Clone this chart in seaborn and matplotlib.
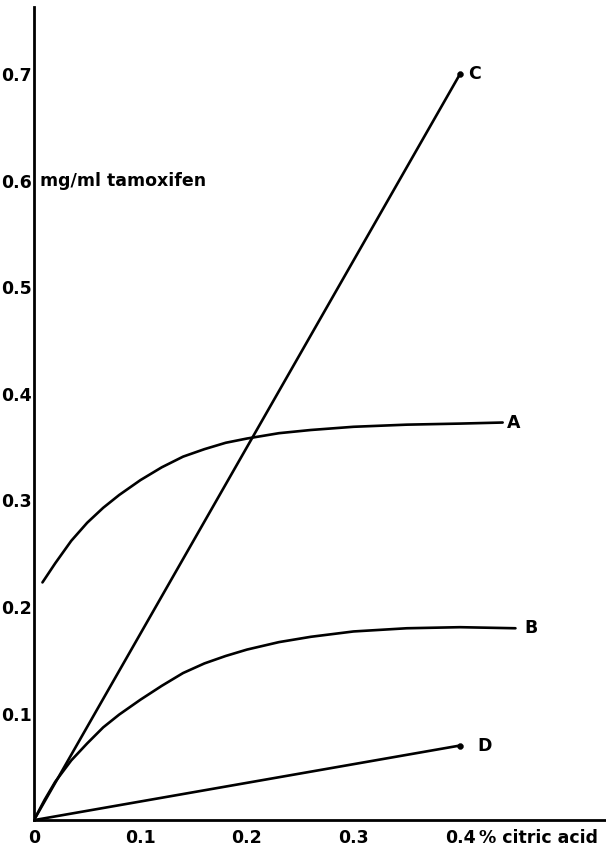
import matplotlib
matplotlib.use("Agg")
import matplotlib.pyplot as plt
import matplotlib.transforms as mtransforms
import seaborn as sns
import pandas as pd

# values (x = % citric acid, y = mg/ml tamoxifen)
a_x = [0.008, 0.02, 0.035, 0.05, 0.065, 0.08, 0.10, 0.12, 0.14, 0.16, 0.18,
       0.20, 0.23, 0.26, 0.30, 0.35, 0.40, 0.44]
a_y = [0.223, 0.241, 0.262, 0.279, 0.293, 0.305, 0.319, 0.331, 0.341, 0.348,
       0.354, 0.358, 0.363, 0.366, 0.369, 0.371, 0.372, 0.373]

b_x = [0.0, 0.01, 0.02, 0.035, 0.05, 0.065, 0.08, 0.10, 0.12, 0.14, 0.16,
       0.18, 0.20, 0.23, 0.26, 0.30, 0.35, 0.40, 0.452]
b_y = [0.0, 0.019, 0.036, 0.056, 0.072, 0.087, 0.099, 0.113, 0.126, 0.138,
       0.147, 0.154, 0.160, 0.167, 0.172, 0.177, 0.180, 0.181, 0.180]

c_x = [0.0, 0.4]
c_y = [0.0, 0.7]

d_x = [0.0, 0.4]
d_y = [0.0, 0.07]

x_ticks = [0, 0.1, 0.2, 0.3, 0.4]
x_labels = ["0", "0.1", "0.2", "0.3", "0.4"]
y_ticks = [0.1, 0.2, 0.3, 0.4, 0.5, 0.6, 0.7]
y_labels = ["0.1", "0.2", "0.3", "0.4", "0.5", "0.6", "0.7"]

curves = pd.concat([
    pd.DataFrame({"x": a_x, "y": a_y, "curve": "A"}),
    pd.DataFrame({"x": b_x, "y": b_y, "curve": "B"}),
    pd.DataFrame({"x": c_x, "y": c_y, "curve": "C"}),
    pd.DataFrame({"x": d_x, "y": d_y, "curve": "D"}),
])

sns.set_style("white")
plt.rcParams["font.family"] = ["DejaVu Sans"]
plt.rcParams["text.color"] = "black"
plt.rcParams["xtick.color"] = "black"
plt.rcParams["ytick.color"] = "black"

fig = plt.figure(figsize=(6.06, 8.49), dpi=100)
ax = fig.add_axes([0.056, 0.034, 0.944, 0.958])

for name, grp in curves.groupby("curve"):
    sns.lineplot(data=grp, x="x", y="y", ax=ax, color="black", linewidth=1.9,
                 sort=False, estimator=None, legend=False)

# end dots on the straight lines
ends = curves[curves["curve"].isin(["C", "D"])].groupby("curve").tail(1)
sns.scatterplot(data=ends, x="x", y="y", ax=ax, color="black", s=18,
                edgecolor="black", legend=False, zorder=5)

# curve labels beside the ends
fs = 12.5
label_dx = {"A": 0.004, "B": 0.008, "C": 0.008, "D": 0.016}
for name, grp in curves.groupby("curve"):
    last = grp.iloc[-1]
    ax.text(last["x"] + label_dx[name], last["y"], name, ha="left", va="center",
            fontsize=fs, fontweight="bold")

ax.set_xlim(0, 0.537)
ax.set_ylim(0, 0.763)
ax.set_xticks(x_ticks)
ax.set_xticklabels(x_labels)
ax.set_yticks(y_ticks)
ax.set_yticklabels(y_labels)
ax.tick_params(axis="both", direction="in", length=3, width=1.2, labelsize=fs)
ax.tick_params(axis="x", pad=6.5)
ax.tick_params(axis="y", pad=1.5)
for lab in ax.get_xticklabels() + ax.get_yticklabels():
    lab.set_fontweight("bold")
ax.set_xlabel("")
ax.set_ylabel("")

for side in ("top", "right"):
    ax.spines[side].set_visible(False)
for side in ("left", "bottom"):
    ax.spines[side].set_linewidth(2)
    ax.spines[side].set_color("black")

ax.text(0.006, 0.6, "mg/ml tamoxifen", ha="left", va="center",
        fontsize=fs, fontweight="bold")

# unit text continuing the 0.4 tick label
trans = mtransforms.offset_copy(ax.get_xaxis_transform(), fig=fig,
                                x=0, y=-6.5, units="points")
ax.text(0.4175, 0, "% citric acid", ha="left", va="top", transform=trans,
        fontsize=fs, fontweight="bold", clip_on=False)

fig.savefig("out.png", dpi=100)
